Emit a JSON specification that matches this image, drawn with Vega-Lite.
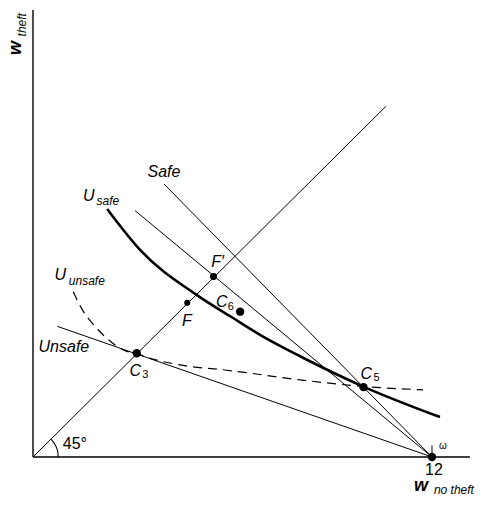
{
  "$schema": "https://vega.github.io/schema/vega-lite/v6.json",
  "width": 483,
  "height": 506,
  "autosize": "none",
  "padding": 0,
  "background": "white",
  "config": {"view": {"stroke": null}},
  "datasets": {
    "axes": [
      {"x": 0, "y": 0, "x2": 0, "y2": 13.44},
      {"x": 0, "y": 0, "x2": 13.14, "y2": 0}
    ],
    "lines": [
      {"name": "45deg", "x": 0, "y": 0, "x2": 10.62, "y2": 10.55},
      {"name": "Safe", "x": 3.94, "y": 8.21, "x2": 12, "y2": 0},
      {"name": "Fprime", "x": 3.07, "y": 7.41, "x2": 12, "y2": 0},
      {"name": "Unsafe", "x": 0.73, "y": 3.93, "x2": 12, "y2": 0},
      {"name": "tick", "x": 12, "y": 0, "x2": 12, "y2": 0.35}
    ],
    "usafe": [
      {"x": 2.23, "y": 7.46},
      {"x": 3.22, "y": 6.23},
      {"x": 4.93, "y": 4.87},
      {"x": 5.92, "y": 4.24},
      {"x": 7.04, "y": 3.55},
      {"x": 8.03, "y": 3.03},
      {"x": 9.95, "y": 2.11},
      {"x": 12.24, "y": 1.2}
    ],
    "uunsafe": [
      {"x": 1.21, "y": 4.97},
      {"x": 1.46, "y": 4.47},
      {"x": 1.92, "y": 3.87},
      {"x": 2.47, "y": 3.37},
      {"x": 2.77, "y": 3.2},
      {"x": 3.15, "y": 3.1},
      {"x": 3.52, "y": 2.97},
      {"x": 4.42, "y": 2.77},
      {"x": 5.92, "y": 2.6},
      {"x": 8.03, "y": 2.32},
      {"x": 9.95, "y": 2.12},
      {"x": 11.73, "y": 2.02}
    ],
    "arc": [
      {"i": 0, "x": 0.76, "y": 0},
      {"i": 1, "x": 0.751, "y": 0.119},
      {"i": 2, "x": 0.723, "y": 0.235},
      {"i": 3, "x": 0.677, "y": 0.345},
      {"i": 4, "x": 0.615, "y": 0.447},
      {"i": 5, "x": 0.537, "y": 0.537}
    ],
    "bigdots": [
      {"name": "C3", "x": 3.12, "y": 3.12},
      {"name": "C6", "x": 6.23, "y": 4.37},
      {"name": "C5", "x": 9.94, "y": 2.1},
      {"name": "omega", "x": 12, "y": 0}
    ],
    "middots": [
      {"name": "F'", "x": 5.43, "y": 5.43}
    ],
    "smalldots": [
      {"name": "F", "x": 4.64, "y": 4.64}
    ],
    "labels": [
      {"role": "main", "text": "Safe", "x": 3.94, "y": 8.57},
      {"role": "main", "text": "Unsafe", "x": 0.93, "y": 3.31},
      {"role": "main", "text": "U", "x": 1.68, "y": 7.85},
      {"role": "main", "text": "U", "x": 0.82, "y": 5.47},
      {"role": "main", "text": "F", "x": 4.63, "y": 4.09},
      {"role": "main", "text": "F′", "x": 5.55, "y": 5.86},
      {"role": "main", "text": "C", "x": 5.68, "y": 4.66},
      {"role": "main", "text": "C", "x": 3.08, "y": 2.59},
      {"role": "main", "text": "C", "x": 10.02, "y": 2.5},
      {"role": "sub", "text": "safe", "x": 2.25, "y": 7.71},
      {"role": "sub", "text": "unsafe", "x": 1.62, "y": 5.3},
      {"role": "sub", "text": "no theft", "x": 12.66, "y": -0.99},
      {"role": "num", "text": "6", "x": 5.95, "y": 4.5},
      {"role": "num", "text": "3", "x": 3.38, "y": 2.48},
      {"role": "num", "text": "5", "x": 10.33, "y": 2.38},
      {"role": "plain", "text": "12", "x": 12.06, "y": -0.38},
      {"role": "plain", "text": "45°", "x": 1.26, "y": 0.39},
      {"role": "omega", "text": "ω", "x": 12.33, "y": 0.33},
      {"role": "w", "text": "w", "x": 11.67, "y": -0.87}
    ],
    "vlabels": [
      {"role": "w", "text": "w", "x": -0.51, "y": 12.3},
      {"role": "sub", "text": "theft", "x": -0.33, "y": 13.0}
    ]
  },
  "encoding": {
    "x": {"field": "x", "type": "quantitative", "scale": {"domain": [-0.992, 13.534], "nice": false, "zero": false}, "axis": null},
    "y": {"field": "y", "type": "quantitative", "scale": {"domain": [-1.474, 13.744], "nice": false, "zero": false}, "axis": null}
  },
  "layer": [
    {
      "data": {"name": "axes"},
      "mark": {"type": "rule", "color": "black", "strokeWidth": 1.4},
      "encoding": {"x2": {"field": "x2"}, "y2": {"field": "y2"}}
    },
    {
      "data": {"name": "lines"},
      "mark": {"type": "rule", "color": "black", "strokeWidth": 1},
      "encoding": {"x2": {"field": "x2"}, "y2": {"field": "y2"}}
    },
    {
      "data": {"name": "usafe"},
      "mark": {"type": "line", "color": "black", "strokeWidth": 2.6, "interpolate": "monotone"},
      "encoding": {}
    },
    {
      "data": {"name": "uunsafe"},
      "mark": {"type": "line", "color": "black", "strokeWidth": 1.2, "strokeDash": [9, 6], "interpolate": "monotone"},
      "encoding": {}
    },
    {
      "data": {"name": "arc"},
      "mark": {"type": "line", "color": "black", "strokeWidth": 1.1, "interpolate": "monotone"},
      "encoding": {"order": {"field": "i"}}
    },
    {
      "data": {"name": "bigdots"},
      "mark": {"type": "circle", "color": "black", "opacity": 1, "size": 70}
    },
    {
      "data": {"name": "middots"},
      "mark": {"type": "circle", "color": "black", "opacity": 1, "size": 50}
    },
    {
      "data": {"name": "smalldots"},
      "mark": {"type": "circle", "color": "black", "opacity": 1, "size": 38}
    },
    {
      "data": {"name": "labels"},
      "transform": [{"filter": "datum.role === 'main'"}],
      "mark": {"type": "text", "font": "Liberation Sans", "fontStyle": "italic", "fontSize": 16, "align": "center", "baseline": "middle", "color": "black"},
      "encoding": {"text": {"field": "text"}}
    },
    {
      "data": {"name": "labels"},
      "transform": [{"filter": "datum.role === 'sub'"}],
      "mark": {"type": "text", "font": "Liberation Sans", "fontStyle": "italic", "fontSize": 12, "align": "center", "baseline": "middle", "color": "black"},
      "encoding": {"text": {"field": "text"}}
    },
    {
      "data": {"name": "labels"},
      "transform": [{"filter": "datum.role === 'num'"}],
      "mark": {"type": "text", "font": "Liberation Sans", "fontSize": 11, "align": "center", "baseline": "middle", "color": "black"},
      "encoding": {"text": {"field": "text"}}
    },
    {
      "data": {"name": "labels"},
      "transform": [{"filter": "datum.role === 'plain'"}],
      "mark": {"type": "text", "font": "Liberation Sans", "fontSize": 16, "align": "center", "baseline": "middle", "color": "black"},
      "encoding": {"text": {"field": "text"}}
    },
    {
      "data": {"name": "labels"},
      "transform": [{"filter": "datum.role === 'omega'"}],
      "mark": {"type": "text", "font": "Liberation Sans", "fontSize": 10, "align": "center", "baseline": "middle", "color": "black"},
      "encoding": {"text": {"field": "text"}}
    },
    {
      "data": {"name": "labels"},
      "transform": [{"filter": "datum.role === 'w'"}],
      "mark": {"type": "text", "font": "Liberation Sans", "fontStyle": "italic", "fontWeight": "bold", "fontSize": 18, "align": "center", "baseline": "middle", "color": "black"},
      "encoding": {"text": {"field": "text"}}
    },
    {
      "data": {"name": "vlabels"},
      "transform": [{"filter": "datum.role === 'w'"}],
      "mark": {"type": "text", "font": "Liberation Sans", "fontStyle": "italic", "fontWeight": "bold", "fontSize": 18, "angle": 270, "align": "center", "baseline": "middle", "color": "black"},
      "encoding": {"text": {"field": "text"}}
    },
    {
      "data": {"name": "vlabels"},
      "transform": [{"filter": "datum.role === 'sub'"}],
      "mark": {"type": "text", "font": "Liberation Sans", "fontStyle": "italic", "fontSize": 12, "angle": 270, "align": "center", "baseline": "middle", "color": "black"},
      "encoding": {"text": {"field": "text"}}
    }
  ]
}
